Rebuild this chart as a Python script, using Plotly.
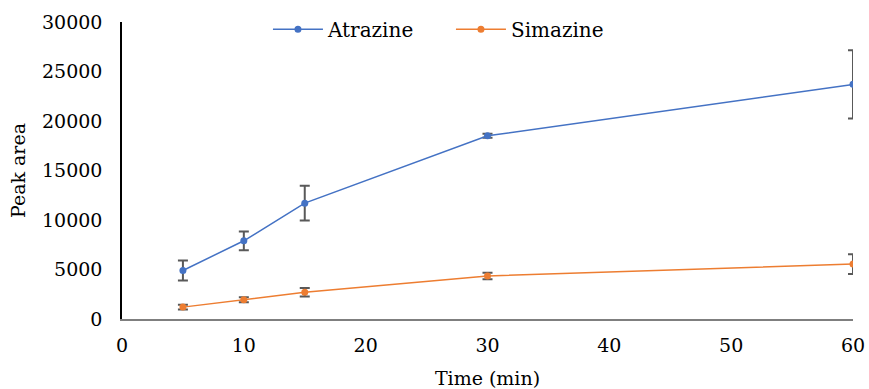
import plotly.graph_objects as go

time_min = [5, 10, 15, 30, 60]
atrazine = [4900, 7900, 11700, 18500, 23700]
atrazine_err = [1000, 950, 1750, 200, 3450]
simazine = [1200, 1950, 2700, 4350, 5550]
simazine_err = [250, 250, 420, 330, 1000]

FONT = "DejaVu Serif"
err_color = "#595959"

fig = go.Figure()
fig.add_trace(go.Scatter(
    x=time_min, y=atrazine, name="Atrazine", mode="lines+markers",
    line=dict(color="#4472C4", width=1.5),
    marker=dict(color="#4472C4", size=7),
    error_y=dict(type="data", array=atrazine_err, visible=True,
                 color=err_color, thickness=2, width=5),
))
fig.add_trace(go.Scatter(
    x=time_min, y=simazine, name="Simazine", mode="lines+markers",
    line=dict(color="#ED7D31", width=1.5),
    marker=dict(color="#ED7D31", size=7),
    error_y=dict(type="data", array=simazine_err, visible=True,
                 color=err_color, thickness=2, width=5),
))

fig.update_layout(
    width=869, height=389,
    margin=dict(l=122, r=16, t=22, b=70, autoexpand=False),
    paper_bgcolor="white", plot_bgcolor="white",
    font=dict(family=FONT, size=19, color="#000000"),
    legend=dict(orientation="h", x=0.45, y=0.976, xanchor="center", yanchor="middle",
                entrywidth=118, entrywidthmode="pixels", itemwidth=50,
                font=dict(family=FONT, size=20), bgcolor="rgba(0,0,0,0)"),
    xaxis=dict(range=[0, 60], tickvals=[0, 10, 20, 30, 40, 50, 60],
               showgrid=False, zeroline=False, showline=True,
               linecolor="#7f7f7f", linewidth=1.5, automargin=False,
               ticks="", tickfont=dict(family=FONT, size=19),
               ticklabelstandoff=8,
               title=dict(text="Time (min)", font=dict(family=FONT, size=19), standoff=18)),
    yaxis=dict(range=[0, 30000], tickvals=[0, 5000, 10000, 15000, 20000, 25000, 30000],
               showgrid=False, zeroline=False, showline=True,
               linecolor="#000000", linewidth=1.5, automargin=False,
               ticks="", tickformat="d", tickfont=dict(family=FONT, size=19),
               ticklabelstandoff=14,
               title=dict(text="Peak area", font=dict(family=FONT, size=19), standoff=11)),
)

fig.write_html("out.html")
